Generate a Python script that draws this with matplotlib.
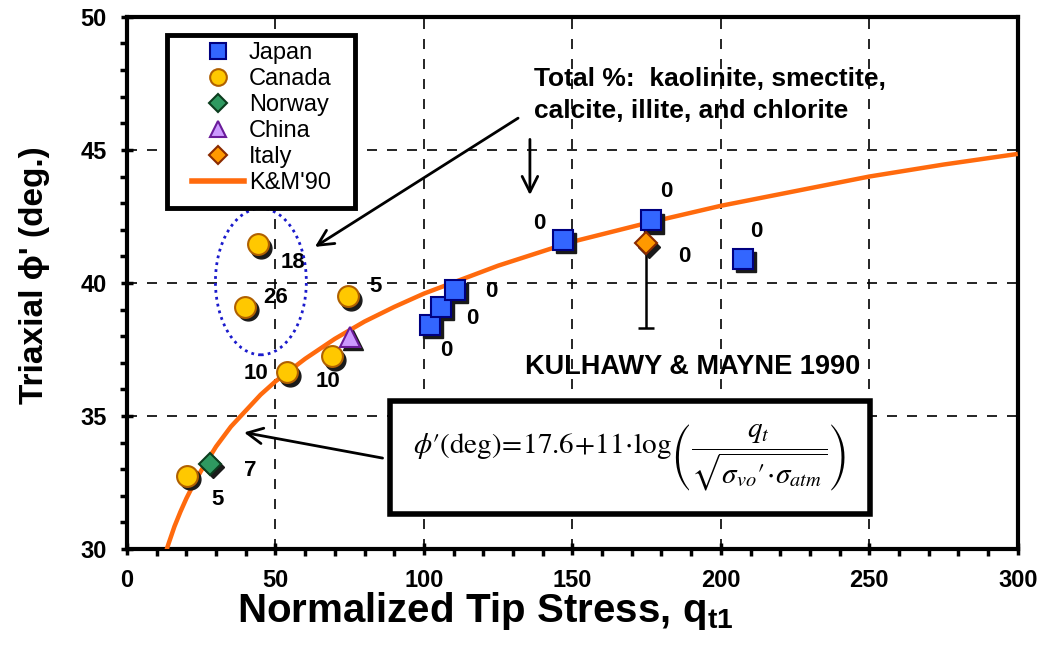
import matplotlib
matplotlib.use('Agg')
import matplotlib.pyplot as plt
from matplotlib.lines import Line2D
from matplotlib.patches import Ellipse, Rectangle
from matplotlib.transforms import offset_copy

plt.rcParams['font.family'] = ['Liberation Sans', 'DejaVu Sans']
plt.rcParams['mathtext.fontset'] = 'stix'
plt.rcParams['mathtext.rm'] = 'Liberation Sans'
plt.rcParams['mathtext.bf'] = 'Liberation Sans:bold'

# Data
japan_x = [102, 105.7, 110.4, 146.8, 176.4, 207.4]
japan_y = [38.42, 39.1, 39.74, 41.62, 42.35, 40.9]
japan_lab = ['0', '0', '0', '0', '0', '0']

canada_x = [20.2, 44.1, 39.7, 74.4, 53.9, 69.0]
canada_y = [32.75, 41.45, 39.1, 39.5, 36.65, 37.25]
canada_lab = ['5', '18', '26', '5', '10', '10']

norway_x = [27.9]
norway_y = [33.2]
norway_lab = ['7']

china_x = [75.1]
china_y = [37.97]

italy_x = [174.7]
italy_y = [41.5]
italy_low = [38.3]
italy_lab = ['0']

# K&M'90 curve points
km_x = [11.5, 12, 13, 14, 16, 18, 20, 22.5, 25, 27.5, 30, 35, 40, 45, 50, 60, 70, 80, 90, 100,
        125, 150, 175, 200, 225, 250, 275, 300]
km_y = [29.3, 29.5, 29.85, 30.2, 30.85, 31.4, 31.9, 32.45, 32.95, 33.4, 33.85, 34.6, 35.2,
        35.8, 36.3, 37.15, 37.9, 38.55, 39.1, 39.6, 40.65, 41.55, 42.25, 42.9, 43.45, 44.0,
        44.45, 44.85]

# label offsets (points) from each marker
canada_off = [(22, -17), (25, -13), (22, 7), (20, 7), (-22, -1), (-3, -18)]
japan_off = [(12, -18), (23, -8), (26, -1), (-17, 12), (11, 21), (10, 20)]
norway_off = [(29, -5)]
italy_off = [(28, -10)]

fig = plt.figure(figsize=(10.58, 6.49), dpi=100)
ax = fig.add_axes([0.120, 0.154, 0.842, 0.820])
ax.set_xlim(0, 300)
ax.set_ylim(30, 50)

ax.set_xticks(range(0, 301, 50))
ax.set_xticks(range(0, 301, 10), minor=True)
ax.set_yticks(range(30, 51, 5))
ax.set_yticks(range(30, 51, 1), minor=True)
ax.tick_params(which='major', direction='inout', length=9, width=2.5, labelsize=17, pad=10)
ax.tick_params(which='minor', direction='out', length=5, width=2.5)
for lab in ax.get_xticklabels() + ax.get_yticklabels():
    lab.set_fontweight('bold')
for s in ax.spines.values():
    s.set_linewidth(3)

ax.grid(True, which='major', color='black', linestyle=(0, (6, 6)), linewidth=1.2)

ax.set_xlabel('Normalized Tip Stress, q$_{\\mathbf{t1}}$', fontsize=29, fontweight='bold',
              math_fontfamily='custom')
ax.xaxis.set_label_coords(0.402, -0.077)
ax.set_ylabel("Triaxial \u03d5' (deg.)", fontsize=24, fontweight='bold')
ax.yaxis.set_label_coords(-0.086, 0.515)

# curve
ax.plot(km_x, km_y, color='#ff6a0d', lw=3.2, zorder=3, solid_capstyle='butt')

shadow = offset_copy(ax.transData, fig=fig, x=2.5, y=-2.5, units='points')

def pts(x, y, marker, ms, fc, ec):
    ax.plot(x, y, linestyle='none', marker=marker, ms=ms, mfc='#1a1a1a', mec='#1a1a1a',
            transform=shadow, zorder=4)
    ax.plot(x, y, linestyle='none', marker=marker, ms=ms, mfc=fc, mec=ec, mew=1.5, zorder=5)

def labels(x, y, texts, offs):
    for xi, yi, t, o in zip(x, y, texts, offs):
        ax.annotate(t, (xi, yi), xytext=o, textcoords='offset points', fontsize=16,
                    fontweight='bold', ha='center', va='center', zorder=6)

# Italy error bar
ax.errorbar(italy_x, italy_y, yerr=[[italy_y[0] - italy_low[0]], [0]], fmt='none',
            ecolor='black', elinewidth=1.8, capsize=6, capthick=1.8, zorder=4)

pts(canada_x, canada_y, 'o', 15, '#ffc800', '#b06000')
pts(japan_x, japan_y, 's', 15, '#3366ff', '#000080')
pts(norway_x, norway_y, 'D', 11, '#2e9960', '#0b3d1e')
pts(china_x, china_y, '^', 15, '#cc99ff', '#6a1b9a')
pts(italy_x, italy_y, 'D', 11, '#ff9900', '#8a2a00')

labels(canada_x, canada_y, canada_lab, canada_off)
labels(japan_x, japan_y, japan_lab, japan_off)
labels(norway_x, norway_y, norway_lab, norway_off)
labels(italy_x, italy_y, italy_lab, italy_off)

# dotted ellipse around the high Canada points
ax.add_patch(Ellipse((45.1, 40.05), 30.6, 5.5, fill=False, edgecolor='#1a1acc',
                     linestyle=(0, (1, 1.5)), linewidth=2, zorder=6))

# annotation text + arrows
ax.text(137, 47.07, 'Total %:  kaolinite, smectite,\ncalcite, illite, and chlorite',
        fontsize=19, fontweight='bold', ha='left', va='center', linespacing=1.45, zorder=6)
ax.annotate('', xy=(62.5, 41.3), xytext=(132.5, 46.25),
            arrowprops=dict(arrowstyle='->', lw=2, color='black', mutation_scale=28), zorder=6)
ax.annotate('', xy=(135.7, 43.2), xytext=(135.7, 45.5),
            arrowprops=dict(arrowstyle='->', lw=2, color='black', mutation_scale=28), zorder=6)
ax.annotate('', xy=(38.5, 34.4), xytext=(87, 33.4),
            arrowprops=dict(arrowstyle='->', lw=2, color='black', mutation_scale=28), zorder=6)

ax.text(190.5, 36.85, 'KULHAWY & MAYNE 1990', fontsize=19.5, fontweight='bold',
        ha='center', va='center', zorder=6)

# formula box
ax.add_patch(Rectangle((88.6, 31.3), 161.6, 4.25, facecolor='white', edgecolor='black',
                       linewidth=4, zorder=7))
ax.text(169.4, 33.42,
        "$\\phi\u2032(\\mathrm{deg})\\!=\\!17.6\\!+\\!11\\!\\cdot\\!\\log\\!\\left(\\dfrac{q_t}"
        "{\\sqrt{\\sigma_{vo}\u2032\\!\\cdot\\!\\sigma_{atm}}}\\right)$",
        fontsize=21, ha='center', va='center', zorder=8)

# legend (frame drawn as its own box)
ax.add_patch(Rectangle((0.0449, 0.641), 0.2111, 0.325, transform=ax.transAxes,
                       facecolor='white', edgecolor='black', linewidth=3.5, zorder=8))
handles = [
    Line2D([], [], ls='none', marker='s', ms=12, mfc='#3366ff', mec='#000080', mew=1.5),
    Line2D([], [], ls='none', marker='o', ms=12, mfc='#ffc800', mec='#b06000', mew=1.5),
    Line2D([], [], ls='none', marker='D', ms=9, mfc='#2e9960', mec='#0b3d1e', mew=1.5),
    Line2D([], [], ls='none', marker='^', ms=12, mfc='#cc99ff', mec='#6a1b9a', mew=1.5),
    Line2D([], [], ls='none', marker='D', ms=9, mfc='#ff9900', mec='#8a2a00', mew=1.5),
    Line2D([], [], color='#ff6a0d', lw=4),
]
names = ['Japan', 'Canada', 'Norway', 'China', 'Italy', "K&M'90"]
leg = ax.legend(handles, names, loc='upper left', bbox_to_anchor=(0.073, 0.953),
                borderaxespad=0, borderpad=0, fontsize=17, frameon=False,
                handlelength=2.2, handletextpad=0.2, labelspacing=0.17)
leg.set_zorder(9)

fig.savefig('out.png', dpi=100)
